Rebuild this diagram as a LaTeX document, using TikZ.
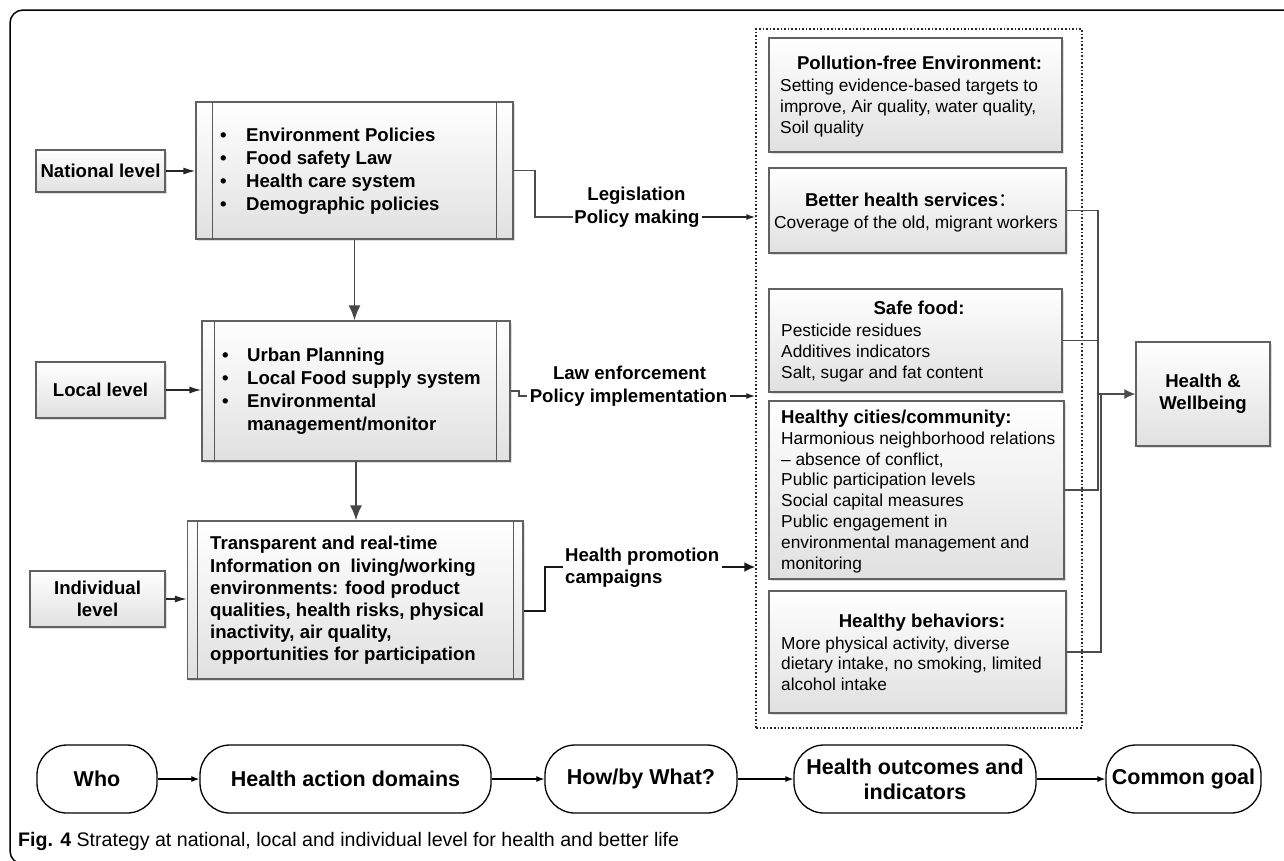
\documentclass[tikz,border=0pt]{standalone}
\usepackage{fontspec}
\setmainfont{Liberation Sans}
\newfontfamily\cjk{Noto Sans CJK SC}
\usetikzlibrary{arrows.meta,shadows,calc}
\newcommand\fsz[2]{\fontsize{#1}{#2}\selectfont}
\newcommand\lines[1]{\begin{tabular}{@{}l@{}}#1\end{tabular}}
\newcommand\bul{\makebox[26pt][l]{\textbullet}}
\newcommand\bulb{\makebox[25pt][l]{\textbullet}}
\begin{document}
\begin{tikzpicture}[x=1pt,y=-1pt,
 sbox/.style={draw=black!62, line width=1.2pt, top color=white, bottom color=black!12, inner sep=0pt,
   drop shadow={shadow xshift=1.5pt, shadow yshift=-1.5pt, opacity=0.25}},
 bt/.style={font=\bfseries\fsz{18.6}{23}, inner sep=0pt},
 rt/.style={font=\fsz{17.3}{21}, inner sep=0pt},
 inline/.style={draw=black!65, line width=1.2pt},
 varr/.style={draw=black!72, line width=1.7pt, -{Latex[length=15pt,width=12pt]}},
 harr/.style={draw=black!85, line width=1.4pt, -{Latex[length=12pt,width=7pt]}},
 conn/.style={draw=black!70, line width=1.3pt},
 sarr/.style={draw=black!85, line width=1.3pt, -{Latex[length=9pt,width=6pt]}},
 oval/.style={draw=black, line width=1.3pt, rounded corners=30pt, fill=white, font=\bfseries\fsz{21.5}{25}, align=center, inner sep=0pt, minimum height=68pt},
 barr/.style={draw=black, line width=1.2pt, -{Latex[length=8pt,width=6pt]}}
]
\useasboundingbox (0,0) rectangle (1284,860);
% outer frame
\draw[line width=1.5pt, rounded corners=13pt] (1295,10) -- (10,10) -- (10,864) -- (1295,864);

% level boxes
\node[sbox, bt, minimum width=129pt, minimum height=42pt] (nat) at (100.5,171) {National level};
\node[sbox, bt, minimum width=129pt, minimum height=56pt] (loc) at (100.5,390) {Local level};
\node[sbox, bt, minimum width=135pt, minimum height=56pt, align=center, font=\bfseries\fsz{18.6}{22}] (ind) at (97.5,599) {Individual\\level};

% policy boxes
\node[sbox, minimum width=317pt, minimum height=137pt] (npol) at (354.5,170.5) {};
\node[sbox, minimum width=308pt, minimum height=140pt] (lpol) at (356,391) {};
\node[sbox, minimum width=335.5pt, minimum height=158pt] (ipol) at (355.25,600) {};
\draw[inline] ([xshift=17pt]npol.north west) -- ([xshift=17pt]npol.south west);
\draw[inline] ([xshift=-17pt]npol.north east) -- ([xshift=-17pt]npol.south east);
\draw[inline] ([xshift=13pt]lpol.north west) -- ([xshift=13pt]lpol.south west);
\draw[inline] ([xshift=-14pt]lpol.north east) -- ([xshift=-14pt]lpol.south east);
\draw[inline] ([xshift=10.5pt]ipol.north west) -- ([xshift=10.5pt]ipol.south west);
\draw[inline] ([xshift=-10.5pt]ipol.north east) -- ([xshift=-10.5pt]ipol.south east);

\node[bt, anchor=north west] (npolt) at (220,125.6) {\lines{\bul Environment Policies\\ \bul Food safety Law\\ \bul Health care system\\ \bul Demographic policies}};
\node[bt, anchor=north west] (lpolt) at (222,345.6) {\lines{\bulb Urban Planning\\ \bulb Local Food supply system\\ \bulb Environmental\\ \hspace{25pt}management/monitor}};
\node[bt, anchor=north west, font=\bfseries\fsz{18.6}{22.2}] (ipolt) at (210,534.2) {\lines{Transparent and real-time\\ Information on~ living/working\\ environments: food product\\ qualities, health risks, physical\\ inactivity, air quality,\\ opportunities for participation}};

% arrows left
\draw[harr] (nat.east) -- (nat.east -| npol.west);
\draw[harr] (loc.east) -- (loc.east -| lpol.west);
\draw[harr] (ind.east) -- (ind.east -| ipol.west);
\draw[varr] (npol.south) -- (npol.south |- lpol.north);
\draw[varr] (lpol.south) -- (lpol.south |- ipol.north);

% dotted container
\node[draw=black!85, line width=1.5pt, dash pattern=on 1.6pt off 2pt, minimum width=326pt, minimum height=699pt, inner sep=0pt] (dotbox) at (919,378.5) {};

% connector labels
\node[bt, anchor=base] (leg1) at (636.5,200.7) {Legislation};
\node[bt, anchor=base] (leg2) at (637,223.7) {Policy making};
\node[bt, anchor=base] (law1) at (629.5,379.7) {Law enforcement};
\node[bt, anchor=base] (law2) at (628.5,402.7) {Policy implementation};
\node[bt, anchor=base west] (hp1) at (565,561.7) {Health promotion};
\node[bt, anchor=base west] (hp2) at (565,583.7) {campaigns};

\coordinate (legin) at (573,217);
\coordinate (legout) at (702,217);
\coordinate (lawin) at (527,396);
\coordinate (lawout) at (730,396);
\coordinate (hpin) at (563,567);
\coordinate (hpout) at (722,567);
\draw[conn] (npol.east) -| (535,217) -- (legin);
\draw[sarr] (legout) -- (legout -| dotbox.west);
\draw[conn] (lpol.east) -- (519,391) -- (519,396) -- (lawin);
\draw[sarr] (lawout) -- (lawout -| dotbox.west);
\draw[black!90, line width=2pt] (ipol.east |- 0,611) -- (545,611) -- (545,567) -- (hpin);
\draw[black!90, line width=1.8pt, -{Latex[length=11pt,width=10pt]}] (hpout) -- (hpout -| dotbox.west);

% right boxes
\node[sbox, minimum width=293pt, minimum height=114pt] (pf) at (915.5,95) {};
\node[sbox, minimum width=297pt, minimum height=85pt] (bh) at (917.5,210.5) {};
\node[sbox, minimum width=293pt, minimum height=103pt] (sf) at (915.5,340.5) {};
\node[sbox, minimum width=295pt, minimum height=178pt] (hc) at (916.5,490) {};
\node[sbox, minimum width=297pt, minimum height=122pt] (hb) at (917.5,652) {};
\node[sbox, bt, minimum width=134pt, minimum height=104pt, align=center, font=\bfseries\fsz{18.6}{22}] (hw) at (1203,394) {Health \&\\Wellbeing};

\node[bt, anchor=base] (pft) at (919.5,69.7) {Pollution-free Environment:};
\node[rt, anchor=north west] (pfb) at (780,76.5) {\lines{Setting evidence-based targets to\\ improve, Air quality, water quality,\\ Soil quality}};
\node[bt, anchor=base] (bht) at (911,206.7) {Better health services{\cjk\mdseries ：}};
\node[rt, anchor=base] (bhb) at (916,228.2) {Coverage of the old, migrant workers};
\node[bt, anchor=base] (sft) at (919,314.7) {Safe food:};
\node[rt, anchor=north west] (sfb) at (781,321.5) {\lines{Pesticide residues\\ Additives indicators\\ Salt, sugar and fat content}};
\node[bt, anchor=base west] (hct) at (781,423.7) {Healthy cities/community:};
\node[rt, anchor=north west, font=\fsz{17.3}{20.8}] (hcb) at (781,429.6) {\lines{Harmonious neighborhood relations\\ – absence of conflict,\\ Public participation levels\\ Social capital measures\\ Public engagement in\\ environmental management and\\ monitoring}};
\node[bt, anchor=base] (hbt) at (922,627.7) {Healthy behaviors:};
\node[rt, anchor=north west, font=\fsz{17.3}{20.5}] (hbb) at (781,634.8) {\lines{More physical activity, diverse\\ dietary intake, no smoking, limited\\ alcohol intake}};

% right connectors
\draw[conn] (bh.east) -- (bh.east -| 1098,0) -- (1098,490) -- (hc.east);
\draw[conn] (sf.east) -- (sf.east -| 1098,0);
\draw[conn] (hb.east) -- (hb.east -| 1101,0) -- (1101,394);
\draw[draw=black!70, line width=1.4pt, -{Latex[length=11pt,width=10pt]}] (1098,394) -- (hw.west);

% bottom row
\node[oval, minimum width=120pt] (who) at (97,779) {Who};
\node[oval, minimum width=291pt] (had) at (345.5,779) {Health action domains};
\node[oval, minimum width=192pt] (how) at (641,779) {How/by What?};
\node[oval, minimum width=242pt] (hoi) at (915,779) {Health outcomes and\\indicators};
\node[oval, minimum width=155pt] (cg) at (1183.5,779) {Common goal};
\draw[barr] (who) -- (had);
\draw[barr] (had) -- (how);
\draw[barr] (how) -- (hoi);
\draw[barr] (hoi) -- (cg);

% caption
\node[anchor=base west, inner sep=0pt, font=\fsz{19.6}{22}] (cap) at (18,846.5) {\textbf{Fig. 4} Strategy at national, local and individual level for health and better life};
\end{tikzpicture}
\end{document}
